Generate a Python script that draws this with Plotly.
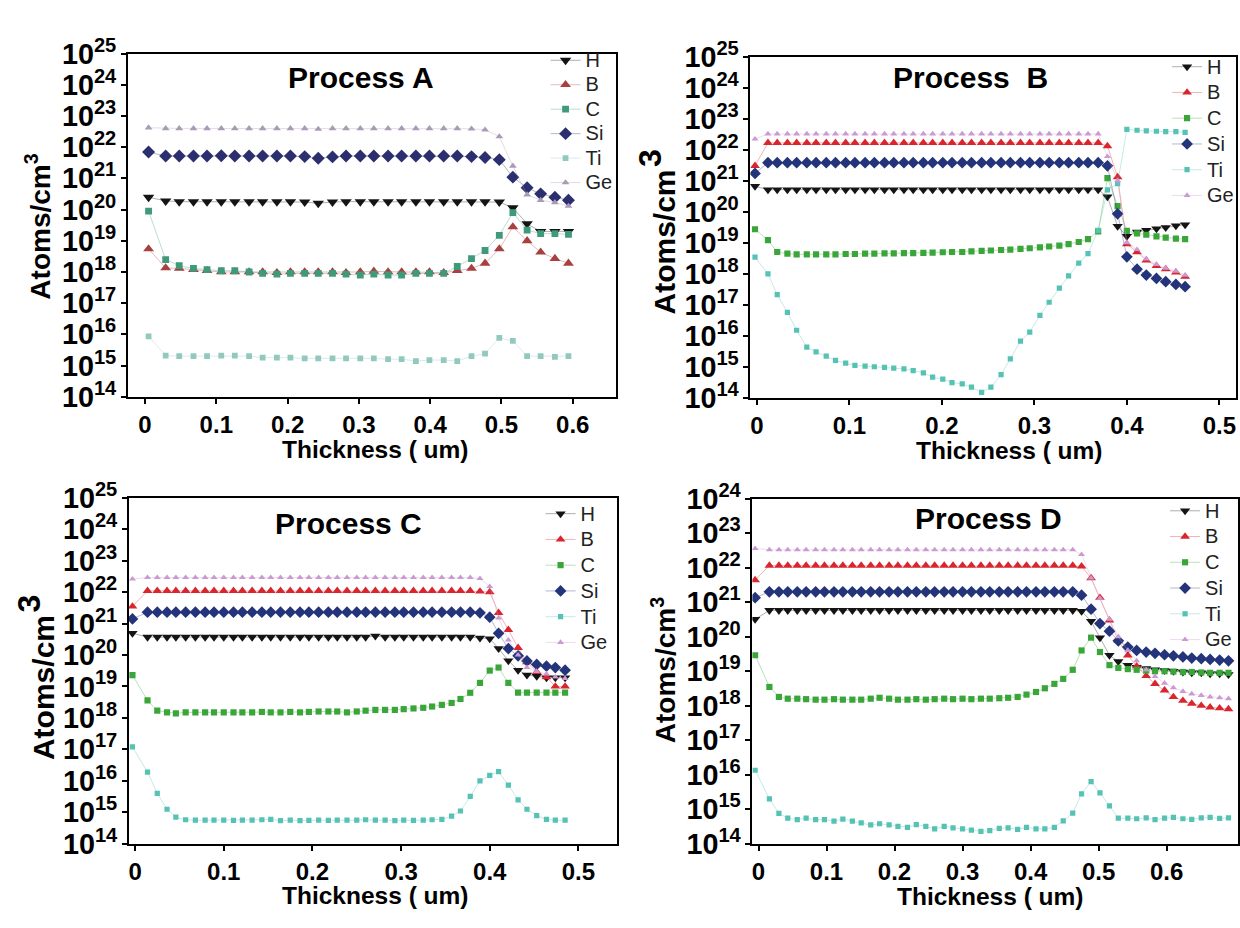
import plotly.graph_objects as go

# ---------------- depth grids (um) ----------------
a_x = [0.005, 0.029, 0.048, 0.068, 0.087, 0.107, 0.126, 0.146, 0.165, 0.185, 0.204,
       0.224, 0.243, 0.263, 0.282, 0.302, 0.321, 0.341, 0.360, 0.380, 0.399, 0.419,
       0.438, 0.458, 0.477, 0.497, 0.516, 0.536, 0.555, 0.575, 0.594]

b_x = [-0.002, 0.012, 0.022, 0.033, 0.043, 0.054, 0.064, 0.075, 0.085, 0.096, 0.106,
       0.117, 0.127, 0.138, 0.148, 0.159, 0.169, 0.180, 0.190, 0.201, 0.211, 0.222,
       0.232, 0.243, 0.253, 0.264, 0.274, 0.285, 0.295, 0.306, 0.316, 0.327, 0.337,
       0.348, 0.358, 0.369, 0.379, 0.390, 0.400, 0.411, 0.421, 0.432, 0.442, 0.453,
       0.463]

c_x = [-0.003, 0.014, 0.025, 0.036, 0.046, 0.057, 0.068, 0.079, 0.089, 0.100, 0.111,
       0.121, 0.132, 0.143, 0.153, 0.164, 0.175, 0.186, 0.196, 0.207, 0.218, 0.228,
       0.239, 0.250, 0.260, 0.271, 0.282, 0.293, 0.303, 0.314, 0.325, 0.335, 0.346,
       0.357, 0.367, 0.378, 0.389, 0.400, 0.410, 0.421, 0.432, 0.442, 0.453, 0.464,
       0.474, 0.485]

d_x = [-0.005, 0.016, 0.030, 0.043, 0.057, 0.070, 0.084, 0.097, 0.111, 0.124, 0.138,
       0.151, 0.165, 0.178, 0.192, 0.205, 0.219, 0.232, 0.246, 0.259, 0.273, 0.286,
       0.300, 0.313, 0.327, 0.340, 0.354, 0.367, 0.381, 0.394, 0.408, 0.421, 0.435,
       0.448, 0.462, 0.475, 0.489, 0.502, 0.516, 0.529, 0.543, 0.556, 0.570, 0.583,
       0.597, 0.610, 0.624, 0.637, 0.651, 0.664, 0.678, 0.691]

# ---------------- Process A concentrations (atoms/cm3) ----------------
a_H = [2.5e20, 1.9e20, 1.8e20, 1.8e20, 1.8e20, 1.8e20, 1.8e20, 1.8e20, 1.8e20, 1.8e20,
       1.8e20, 1.75e20, 1.6e20, 1.75e20, 1.8e20, 1.8e20, 1.8e20, 1.8e20, 1.8e20, 1.8e20,
       1.8e20, 1.8e20, 1.8e20, 1.8e20, 1.8e20, 1.75e20, 1.15e20, 3.5e19, 2.0e19, 2.0e19,
       2.0e19]
a_B = [5.5e18, 1.35e18, 1.3e18, 1.2e18, 1.1e18, 1.0e18, 1.0e18, 1.0e18, 1.0e18, 0.95e18,
       1.0e18, 1.0e18, 1.0e18, 1.0e18, 0.95e18, 1.0e18, 1.05e18, 1.0e18, 1.0e18, 1.0e18,
       1.0e18, 0.95e18, 1.1e18, 1.3e18, 1.9e18, 5.5e18, 2.8e19, 1.0e19, 4.3e18, 2.7e18,
       1.9e18]
a_C = [9.0e19, 2.5e18, 1.6e18, 1.3e18, 1.2e18, 1.1e18, 1.1e18, 1.0e18, 0.9e18, 0.85e18,
       0.9e18, 0.9e18, 0.9e18, 0.9e18, 0.85e18, 0.8e18, 0.85e18, 0.8e18, 0.8e18, 0.9e18,
       0.9e18, 0.9e18, 1.5e18, 2.7e18, 4.9e18, 1.5e19, 8.0e19, 2.2e19, 1.7e19, 1.7e19,
       1.6e19]
a_Si = [7.0e21, 5.2e21, 5.2e21, 5.2e21, 5.2e21, 5.3e21, 5.2e21, 5.2e21, 5.2e21, 5.2e21,
        5.2e21, 5.0e21, 4.4e21, 4.9e21, 5.2e21, 5.2e21, 5.2e21, 5.2e21, 5.2e21, 5.2e21,
        5.2e21, 5.2e21, 5.2e21, 5.0e21, 4.7e21, 4.0e21, 1.1e21, 5.0e20, 3.2e20, 2.5e20,
        2.0e20]
a_Ti = [8.7e15, 2.1e15, 2.0e15, 2.0e15, 2.0e15, 2.1e15, 2.1e15, 2.0e15, 1.8e15, 1.8e15,
        1.8e15, 1.7e15, 1.7e15, 1.7e15, 1.7e15, 1.7e15, 1.7e15, 1.6e15, 1.6e15, 1.4e15,
        1.5e15, 1.5e15, 1.4e15, 2.0e15, 2.4e15, 7.8e15, 6.2e15, 2.0e15, 2.0e15, 1.9e15,
        2.0e15]
a_Ge = [4.2e22, 4.0e22, 4.0e22, 4.0e22, 4.0e22, 4.0e22, 4.0e22, 4.0e22, 4.0e22, 4.0e22,
        4.0e22, 4.0e22, 3.8e22, 4.0e22, 4.0e22, 4.0e22, 4.0e22, 4.0e22, 4.0e22, 4.0e22,
        4.0e22, 4.0e22, 4.0e22, 3.9e22, 3.6e22, 2.2e22, 2.5e21, 3.0e20, 2.0e20, 1.7e20,
        1.3e20]

# ---------------- Process B ----------------
b_H = [6.6e20, 5.1e20, 5.1e20, 5.1e20, 5.1e20, 5.1e20, 5.1e20, 5.1e20, 5.1e20, 5.1e20,
       5.1e20, 5.1e20, 5.1e20, 5.1e20, 5.1e20, 5.1e20, 5.1e20, 5.1e20, 5.1e20, 5.1e20,
       5.1e20, 5.1e20, 5.1e20, 5.1e20, 5.1e20, 5.1e20, 5.1e20, 5.1e20, 5.1e20, 5.1e20,
       5.1e20, 5.1e20, 5.1e20, 5.1e20, 5.1e20, 5.1e20, 3.0e20, 3.4e19, 1.6e19, 2.2e19,
       2.5e19, 2.8e19, 3.1e19, 3.5e19, 3.8e19]
b_B = [3.0e21, 1.65e22, 1.65e22, 1.65e22, 1.65e22, 1.65e22, 1.65e22, 1.65e22, 1.65e22,
       1.65e22, 1.65e22, 1.65e22, 1.65e22, 1.65e22, 1.65e22, 1.65e22, 1.65e22, 1.65e22,
       1.65e22, 1.65e22, 1.65e22, 1.65e22, 1.65e22, 1.65e22, 1.65e22, 1.65e22, 1.65e22,
       1.65e22, 1.65e22, 1.65e22, 1.65e22, 1.65e22, 1.65e22, 1.65e22, 1.65e22, 1.65e22,
       1.3e22, 1.3e21, 9.0e18, 5.0e18, 2.7e18, 1.8e18, 1.4e18, 1.1e18, 8.0e17]
b_C = [2.7e19, 1.2e19, 5.0e18, 4.4e18, 4.2e18, 4.2e18, 4.2e18, 4.2e18, 4.2e18, 4.3e18,
       4.3e18, 4.4e18, 4.4e18, 4.5e18, 4.5e18, 4.6e18, 4.6e18, 4.7e18, 4.8e18, 4.9e18,
       5.0e18, 5.0e18, 5.2e18, 5.4e18, 5.6e18, 5.8e18, 6.0e18, 6.3e18, 6.6e18, 7.0e18,
       7.5e18, 8.0e18, 9.0e18, 1.05e19, 1.3e19, 2.3e19, 1.2e21, 1.5e20, 2.4e19, 2.0e19,
       1.8e19, 1.6e19, 1.45e19, 1.35e19, 1.3e19]
b_Si = [1.7e21, 3.8e21, 3.8e21, 3.8e21, 3.8e21, 3.8e21, 3.8e21, 3.8e21, 3.8e21, 3.8e21,
        3.8e21, 3.8e21, 3.8e21, 3.8e21, 3.8e21, 3.8e21, 3.8e21, 3.8e21, 3.8e21, 3.8e21,
        3.8e21, 3.8e21, 3.8e21, 3.8e21, 3.8e21, 3.8e21, 3.8e21, 3.8e21, 3.8e21, 3.8e21,
        3.8e21, 3.8e21, 3.8e21, 3.8e21, 3.8e21, 3.8e21, 3.0e21, 8.5e19, 3.5e18, 1.4e18,
        9.0e17, 7.0e17, 5.5e17, 4.5e17, 3.8e17]
b_Ti = [3.4e18, 9.8e17, 2.1e17, 5.7e16, 1.5e16, 4.3e15, 3.0e15, 2.2e15, 1.6e15, 1.3e15,
        1.1e15, 1.05e15, 1.0e15, 9.5e14, 9.0e14, 8.5e14, 7.5e14, 6.3e14, 4.6e14, 4.0e14,
        3.1e14, 2.8e14, 2.2e14, 1.5e14, 2.2e14, 5.6e14, 1.8e15, 6.7e15, 1.3e16, 4.5e16,
        1.2e17, 3.4e17, 8.5e17, 2.2e18, 4.4e18, 2.5e19, 5.0e20, 8.0e20, 4.5e22, 4.2e22,
        4.0e22, 3.9e22, 3.8e22, 3.8e22, 3.6e22]
b_Ge = [2.2e22, 3.2e22, 3.2e22, 3.2e22, 3.2e22, 3.2e22, 3.2e22, 3.2e22, 3.2e22, 3.2e22,
        3.2e22, 3.2e22, 3.2e22, 3.2e22, 3.2e22, 3.2e22, 3.2e22, 3.2e22, 3.2e22, 3.2e22,
        3.2e22, 3.2e22, 3.2e22, 3.2e22, 3.2e22, 3.2e22, 3.2e22, 3.2e22, 3.2e22, 3.2e22,
        3.2e22, 3.2e22, 3.2e22, 3.2e22, 3.2e22, 3.2e22, 6.0e21, 1.0e21, 1.0e19, 6.0e18,
        3.0e18, 2.0e18, 1.5e18, 1.2e18, 9.0e17]

# ---------------- Process C ----------------
c_H = [4.9e20, 3.7e20, 3.7e20, 3.7e20, 3.7e20, 3.7e20, 3.7e20, 3.7e20, 3.7e20, 3.7e20,
       3.7e20, 3.7e20, 3.7e20, 3.7e20, 3.7e20, 3.7e20, 3.7e20, 3.7e20, 3.7e20, 3.7e20,
       3.7e20, 3.7e20, 3.7e20, 3.7e20, 3.7e20, 4.0e20, 3.7e20, 3.7e20, 3.7e20, 3.7e20,
       3.7e20, 3.7e20, 3.7e20, 3.7e20, 3.7e20, 3.7e20, 3.5e20, 3.3e20, 1.6e20, 6.6e19,
       3.3e19, 2.3e19, 2.1e19, 1.9e19, 1.9e19, 1.9e19]
c_B = [3.5e21, 1.1e22, 1.1e22, 1.1e22, 1.1e22, 1.1e22, 1.1e22, 1.1e22, 1.1e22, 1.1e22,
       1.1e22, 1.1e22, 1.1e22, 1.1e22, 1.1e22, 1.1e22, 1.1e22, 1.1e22, 1.1e22, 1.1e22,
       1.1e22, 1.1e22, 1.1e22, 1.1e22, 1.1e22, 1.1e22, 1.1e22, 1.1e22, 1.1e22, 1.1e22,
       1.1e22, 1.1e22, 1.1e22, 1.1e22, 1.1e22, 1.1e22, 1.05e22, 1.0e22, 2.2e21, 6.3e20,
       1.7e20, 5.9e19, 2.9e19, 2.0e19, 1.0e19, 1.0e19]
c_C = [2.3e19, 3.6e18, 1.7e18, 1.5e18, 1.4e18, 1.5e18, 1.5e18, 1.5e18, 1.5e18, 1.5e18,
       1.5e18, 1.5e18, 1.5e18, 1.55e18, 1.5e18, 1.5e18, 1.55e18, 1.5e18, 1.55e18, 1.6e18,
       1.6e18, 1.6e18, 1.5e18, 1.6e18, 1.7e18, 1.8e18, 1.8e18, 1.8e18, 1.9e18, 2.0e18,
       2.1e18, 2.3e18, 2.6e18, 3.0e18, 4.0e18, 6.3e18, 1.3e19, 3.2e19, 4.0e19, 1.3e19,
       6.4e18, 6.4e18, 6.4e18, 6.4e18, 6.4e18, 6.4e18]
c_Si = [1.4e21, 2.3e21, 2.3e21, 2.3e21, 2.3e21, 2.3e21, 2.3e21, 2.3e21, 2.3e21, 2.3e21,
        2.3e21, 2.3e21, 2.3e21, 2.3e21, 2.3e21, 2.3e21, 2.3e21, 2.3e21, 2.3e21, 2.3e21,
        2.3e21, 2.3e21, 2.3e21, 2.3e21, 2.3e21, 2.3e21, 2.3e21, 2.3e21, 2.3e21, 2.3e21,
        2.3e21, 2.3e21, 2.3e21, 2.3e21, 2.3e21, 2.3e21, 2.2e21, 1.6e21, 4.9e20, 1.6e20,
        9.4e19, 6.5e19, 5.0e19, 4.4e19, 4.0e19, 3.3e19]
c_Ti = [1.2e17, 1.9e16, 4.0e15, 1.25e15, 7.0e14, 5.8e14, 5.6e14, 5.6e14, 5.6e14, 5.6e14,
        5.5e14, 5.6e14, 5.6e14, 5.8e14, 6.0e14, 5.4e14, 5.6e14, 5.4e14, 5.5e14, 5.6e14,
        5.5e14, 5.6e14, 5.6e14, 5.6e14, 5.8e14, 5.6e14, 5.6e14, 5.4e14, 5.6e14, 5.5e14,
        5.6e14, 5.8e14, 6.0e14, 7.5e14, 1.1e15, 3.2e15, 1.0e16, 1.5e16, 1.95e16, 7.3e15,
        2.5e15, 1.25e15, 7.9e14, 6.0e14, 5.6e14, 5.6e14]
c_Ge = [2.6e22, 2.9e22, 2.9e22, 2.9e22, 2.9e22, 2.9e22, 2.9e22, 2.9e22, 2.9e22, 2.9e22,
        2.9e22, 2.9e22, 2.9e22, 2.9e22, 2.9e22, 2.9e22, 2.9e22, 2.9e22, 2.9e22, 2.9e22,
        2.9e22, 2.9e22, 2.9e22, 2.9e22, 2.9e22, 2.9e22, 2.9e22, 2.9e22, 2.9e22, 2.9e22,
        2.9e22, 2.9e22, 2.9e22, 2.9e22, 2.9e22, 2.9e22, 2.7e22, 1.5e22, 1.5e21, 3.0e20,
        1.0e20, 4.0e19, 3.0e19, 2.5e19, 2.0e19, 1.8e19]

# ---------------- Process D ----------------
d_H = [3.2e20, 5.8e20, 5.8e20, 5.8e20, 5.8e20, 5.8e20, 5.8e20, 5.8e20, 5.8e20, 5.8e20,
       5.8e20, 5.8e20, 5.8e20, 5.8e20, 5.8e20, 5.8e20, 5.8e20, 5.8e20, 5.8e20, 5.8e20,
       5.8e20, 5.8e20, 5.8e20, 5.8e20, 5.8e20, 5.8e20, 5.8e20, 5.8e20, 5.8e20, 5.8e20,
       5.8e20, 5.8e20, 5.8e20, 5.8e20, 5.8e20, 5.5e20, 2.8e20, 9.4e19, 2.9e19, 1.9e19,
       1.5e19, 1.3e19, 1.2e19, 1.1e19, 1.05e19, 1.0e19, 9.5e18, 9.0e18, 9.0e18, 8.5e18,
       8.5e18, 8.0e18]
d_B = [4.4e21, 1.15e22, 1.15e22, 1.15e22, 1.15e22, 1.15e22, 1.15e22, 1.15e22, 1.15e22,
       1.15e22, 1.15e22, 1.15e22, 1.15e22, 1.15e22, 1.15e22, 1.15e22, 1.15e22, 1.15e22,
       1.15e22, 1.15e22, 1.15e22, 1.15e22, 1.15e22, 1.15e22, 1.15e22, 1.15e22, 1.15e22,
       1.15e22, 1.15e22, 1.15e22, 1.15e22, 1.15e22, 1.15e22, 1.15e22, 1.15e22, 1.1e22,
       5.0e21, 1.35e21, 3.0e20, 7.6e19, 2.9e19, 1.4e19, 7.3e18, 4.3e18, 2.8e18, 1.8e18,
       1.4e18, 1.15e18, 1.0e18, 9.0e17, 8.5e17, 8.0e17]
d_C = [2.9e19, 3.5e18, 1.8e18, 1.6e18, 1.6e18, 1.55e18, 1.5e18, 1.5e18, 1.55e18, 1.5e18,
       1.5e18, 1.5e18, 1.6e18, 1.7e18, 1.6e18, 1.5e18, 1.5e18, 1.55e18, 1.5e18, 1.55e18,
       1.6e18, 1.55e18, 1.6e18, 1.55e18, 1.6e18, 1.6e18, 1.65e18, 1.7e18, 1.8e18, 2.1e18,
       2.5e18, 3.2e18, 4.3e18, 6.0e18, 1.1e19, 4.0e19, 9.4e19, 3.6e19, 1.5e19, 1.25e19,
       1.15e19, 1.1e19, 1.05e19, 1.0e19, 1.0e19, 9.8e18, 9.5e18, 9.5e18, 9.2e18, 9.0e18,
       9.0e18, 9.0e18]
d_Si = [1.35e21, 2.0e21, 2.0e21, 2.0e21, 2.0e21, 2.0e21, 2.0e21, 2.0e21, 2.0e21, 2.0e21,
        2.0e21, 2.0e21, 2.0e21, 2.0e21, 2.0e21, 2.0e21, 2.0e21, 2.0e21, 2.0e21, 2.0e21,
        2.0e21, 2.0e21, 2.0e21, 2.0e21, 2.0e21, 2.0e21, 2.0e21, 2.0e21, 2.0e21, 2.0e21,
        2.0e21, 2.0e21, 2.0e21, 2.0e21, 2.0e21, 1.6e21, 6.3e20, 2.4e20, 1.45e20, 7.6e19,
        5.0e19, 4.0e19, 3.6e19, 3.3e19, 3.0e19, 2.8e19, 2.6e19, 2.4e19, 2.3e19, 2.2e19,
        2.1e19, 2.0e19]
d_Ti = [1.35e16, 2.0e15, 7.6e14, 5.5e14, 5.0e14, 5.5e14, 5.0e14, 5.0e14, 4.5e14, 5.2e14,
        4.5e14, 4.0e14, 3.5e14, 3.8e14, 3.5e14, 3.2e14, 3.0e14, 3.6e14, 3.2e14, 2.7e14,
        3.2e14, 2.9e14, 2.7e14, 2.5e14, 2.3e14, 2.4e14, 2.8e14, 2.9e14, 2.6e14, 3.0e14,
        2.7e14, 2.7e14, 3.0e14, 4.6e14, 7.7e14, 2.8e15, 6.3e15, 3.0e15, 1.26e15, 5.5e14,
        5.5e14, 5.3e14, 5.6e14, 5.0e14, 5.5e14, 5.8e14, 5.3e14, 5.1e14, 5.6e14, 5.8e14,
        5.4e14, 5.6e14]
d_Ge = [3.6e22, 3.3e22, 3.3e22, 3.3e22, 3.3e22, 3.3e22, 3.3e22, 3.3e22, 3.3e22, 3.3e22,
        3.3e22, 3.3e22, 3.3e22, 3.3e22, 3.3e22, 3.3e22, 3.3e22, 3.3e22, 3.3e22, 3.3e22,
        3.3e22, 3.3e22, 3.3e22, 3.3e22, 3.3e22, 3.3e22, 3.3e22, 3.3e22, 3.3e22, 3.3e22,
        3.3e22, 3.3e22, 3.3e22, 3.3e22, 3.3e22, 2.4e22, 5.0e21, 1.3e21, 3.2e20, 1.0e20,
        4.0e19, 2.0e19, 1.1e19, 7.0e18, 4.5e18, 3.3e18, 2.6e18, 2.2e18, 2.0e18, 1.8e18,
        1.7e18, 1.6e18]

species = ["H", "B", "C", "Si", "Ti", "Ge"]
panel_titles = ["Process A", "Process  B", "Process C", "Process D"]
x_ticks = [0, 0.1, 0.2, 0.3, 0.4, 0.5, 0.6]
x_tick_text = ["0", "0.1", "0.2", "0.3", "0.4", "0.5", "0.6"]

# ---------------- styling ----------------
FONT = "Liberation Sans, Arial, Helvetica, sans-serif"
W, H = 1240, 928

symbols = {"H": "triangle-down", "B": "triangle-up", "C": "square",
           "Si": "diamond", "Ti": "square", "Ge": "triangle-up"}
sizes = {"H": 9.5, "B": 9, "C": 6.5, "Si": 9.5, "Ti": 5.5, "Ge": 6.5}

colors_a = {"H": "#141414", "B": "#a8403f", "C": "#3f9a7c", "Si": "#2b2f6e",
            "Ti": "#92c9bf", "Ge": "#a99bb8"}
colors_bcd = {"H": "#141414", "B": "#d9262e", "C": "#3aa63a", "Si": "#23347a",
              "Ti": "#55c2b4", "Ge": "#cc9ad2"}


def rgba(hex_color, alpha):
    h = hex_color.lstrip("#")
    r, g, b = int(h[0:2], 16), int(h[2:4], 16), int(h[4:6], 16)
    return f"rgba({r},{g},{b},{alpha})"


def px_x(p):
    return p / W


def px_y(p):
    return 1 - p / H


# ytitle: (x centre, y centre, font size); ysup: big stand-alone "3" (x, y) or None
panels = [
    dict(x=a_x, data=dict(H=a_H, B=a_B, C=a_C, Si=a_Si, Ti=a_Ti, Ge=a_Ge),
         colors=colors_a, box=(127, 35, 615, 392), xr=[-0.024, 0.66], yr=[14, 25],
         title_xy=(360, 60), ytitle=(37, 215, 28), ysup=None, xtitle_xy=(375, 447),
         legend=(545, 24, 16.5), msize=1.05),
    dict(x=b_x, data=dict(H=b_H, B=b_B, C=b_C, Si=b_Si, Ti=b_Ti, Ge=b_Ge),
         colors=colors_bcd, box=(750, 38, 1236, 393), xr=[-0.007, 0.518], yr=[14, 25],
         title_xy=(970, 60), ytitle=(664, 231, 30), ysup=(650, 143), xtitle_xy=(1009, 448),
         legend=(1167, 30, 17.5), msize=0.95),
    dict(x=c_x, data=dict(H=c_H, B=c_B, C=c_C, Si=c_Si, Ti=c_Ti, Ge=c_Ge),
         colors=colors_bcd, box=(128, 497, 616, 857), xr=[-0.007, 0.543], yr=[14, 25],
         title_xy=(348, 524), ytitle=(42, 694, 30), ysup=(28, 607), xtitle_xy=(375, 911),
         legend=(540, 495, 17.5), msize=0.95),
    dict(x=d_x, data=dict(H=d_H, B=d_B, C=d_C, Si=d_Si, Ti=d_Ti, Ge=d_Ge),
         colors=colors_bcd, box=(752, 498, 1238, 857), xr=[-0.009, 0.705], yr=[14, 24],
         title_xy=(988, 519), ytitle=(663, 676, 28), ysup=None, xtitle_xy=(990, 912),
         legend=(1165, 492, 17.5), msize=0.95),
]

fig = go.Figure()
annotations = []
layout = {}

for i, p in enumerate(panels, start=1):
    sfx = "" if i == 1 else str(i)
    xa, ya = f"x{sfx}", f"y{sfx}"
    leg = f"legend{sfx}"
    for sp in species:
        col = p["colors"][sp]
        fig.add_trace(go.Scatter(
            x=p["x"], y=p["data"][sp],
            name=f"<span style='font-size:20px'>{sp}</span>",
            mode="lines+markers", xaxis=xa, yaxis=ya, legend=leg,
            line=dict(color=rgba(col, 0.35), width=1),
            marker=dict(symbol=symbols[sp], size=sizes[sp] * p["msize"],
                        color=col, line=dict(width=0)),
        ))

    l, t, r, b = p["box"]
    axis_common = dict(showline=True, linecolor="black", linewidth=2, mirror=True,
                       ticks="outside", tickcolor="black", tickwidth=2, ticklen=5,
                       showgrid=False, zeroline=False)
    layout[f"xaxis{sfx}"] = dict(
        domain=[px_x(l), px_x(r)], anchor=ya, range=p["xr"],
        tickvals=x_ticks, ticktext=x_tick_text,
        tickfont=dict(family=FONT, size=24, color="black", weight="bold"),
        **axis_common)
    layout[f"yaxis{sfx}"] = dict(
        domain=[px_y(b), px_y(t)], anchor=xa, type="log", range=p["yr"],
        dtick=1, exponentformat="power",
        tickfont=dict(family=FONT, size=23, color="black", weight="bold"),
        **axis_common)
    lx, ly, lf = p["legend"]
    layout[leg] = dict(
        x=px_x(lx), y=px_y(ly), xanchor="left", yanchor="top",
        bgcolor="rgba(0,0,0,0)", borderwidth=0, tracegroupgap=0,
        font=dict(family=FONT, size=lf, color="#222222"),
        itemwidth=30)

    tx, ty = p["title_xy"]
    annotations.append(dict(
        text=f"<b>{panel_titles[i - 1]}</b>", xref="paper", yref="paper",
        x=px_x(tx), y=px_y(ty), xanchor="center", yanchor="middle", showarrow=False,
        font=dict(family=FONT, size=30, color="black")))

    yx, yy, yf = p["ytitle"]
    ytxt = "<b>Atoms/cm<sup>3</sup></b>" if p["ysup"] is None else "<b>Atoms/cm</b>"
    annotations.append(dict(
        text=ytxt, xref="paper", yref="paper", textangle=-90,
        x=px_x(yx), y=px_y(yy), xanchor="center", yanchor="middle",
        showarrow=False, font=dict(family=FONT, size=yf, color="black")))
    if p["ysup"] is not None:
        sx, sy = p["ysup"]
        annotations.append(dict(
            text="<b>3</b>", xref="paper", yref="paper", textangle=-90,
            x=px_x(sx), y=px_y(sy), xanchor="center", yanchor="middle",
            showarrow=False, font=dict(family=FONT, size=32, color="black")))

    xx, xy = p["xtitle_xy"]
    annotations.append(dict(
        text="<b>Thickness ( um)</b>", xref="paper", yref="paper",
        x=px_x(xx), y=px_y(xy), xanchor="center", yanchor="middle", showarrow=False,
        font=dict(family=FONT, size=24.5, color="black")))

fig.update_layout(
    width=W, height=H, margin=dict(l=0, r=0, t=0, b=0),
    paper_bgcolor="white", plot_bgcolor="white",
    showlegend=True, annotations=annotations, **layout)

fig.write_html("out.html")
